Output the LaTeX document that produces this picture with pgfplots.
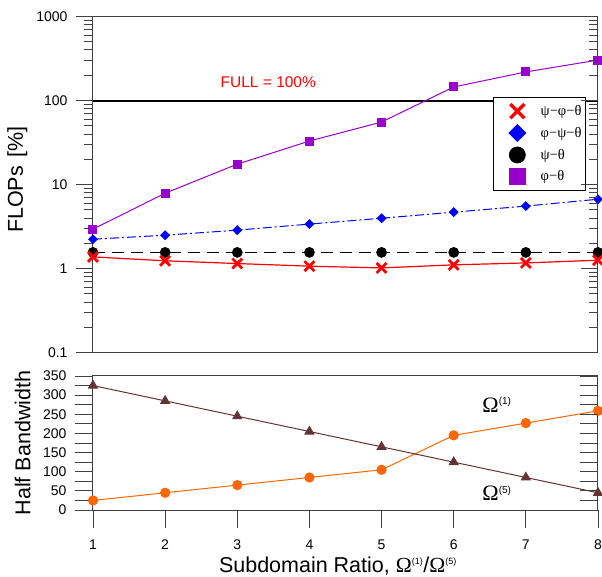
\documentclass[border=0pt]{standalone}
\usepackage{fontspec}
\setmainfont{Liberation Sans}
\newfontfamily\gr{Liberation Serif}
\usepackage{pgfplots}
\pgfplotsset{compat=1.18}

\definecolor{cRed}{HTML}{FF0000}
\definecolor{cBlue}{HTML}{0000FF}
\definecolor{cPurple}{HTML}{9900CC}
\definecolor{cOrange}{HTML}{FF6600}
\definecolor{cBrown}{HTML}{663333}
\definecolor{cAxis}{HTML}{404040}

\pgfplotsset{
  frame/.style={
    scale only axis, width=505bp, xmin=1, xmax=8,
    axis line style={cAxis, line width=1bp},
    every tick/.style={cAxis, line width=0.9bp},
    /pgf/number format/assume math mode=true,
    tick label style={font=\fontsize{14bp}{16bp}\selectfont},
    yticklabel style={xshift=-5bp},
    xticklabel style={yshift=-8bp},
    label style={font=\fontsize{21.5bp}{25bp}\selectfont},
  },
  % companion frame carrying only the inward ticks on the right edge
  rightticks/.style={
    frame, axis line style={draw=none}, xtick=\empty,
    ytick pos=right, tick align=inside, yticklabels={},
  },
}

\begin{document}
\begin{tikzpicture}
\useasboundingbox (-93bp,-67bp) rectangle (509bp,510bp);

% ---------------- lower panel: half bandwidth ----------------
\begin{axis}[frame, at={(0,0)}, anchor=south west, height=134bp,
  ymin=0, ymax=350,
  ytick={0,50,...,350}, minor ytick={25,75,...,325},
  ytick pos=left, xtick pos=bottom, tick align=outside,
  xtick={1,...,8},
  major tick length=18bp, minor tick length=18bp,
  xlabel={Subdomain Ratio, {\gr Ω}\textsuperscript{\fontsize{9bp}{10bp}\selectfont (1)}/{\gr Ω}\textsuperscript{\fontsize{9bp}{10bp}\selectfont (5)}},
  xlabel style={at={(axis description cs:0.485,-0.463)}, anchor=base},
  ylabel={Half Bandwidth},
  ylabel style={at={(axis description cs:-0.139,0.5)}, anchor=center},
  clip=false]
\addplot[cOrange, line width=1bp, mark=*, mark size=4.6bp]
  coordinates {(1,25)(2,45)(3,65)(4,85)(5,105)(6,195)(7,227)(8,259)};
\addplot[cBrown, line width=1bp, mark=triangle*, mark size=5bp]
  coordinates {(1,325)(2,285)(3,245)(4,205)(5,165)(6,125)(7,85)(8,45)};
\node[font=\fontsize{22bp}{25bp}\selectfont] at (axis cs:6.6,274)
  {{\gr Ω}\textsuperscript{\fontsize{10bp}{11bp}\selectfont (1)}};
\node[font=\fontsize{22bp}{25bp}\selectfont] at (axis cs:6.6,44)
  {{\gr Ω}\textsuperscript{\fontsize{10bp}{11bp}\selectfont (5)}};
\end{axis}
\begin{axis}[rightticks, at={(0,0)}, anchor=south west, height=134bp,
  ymin=0, ymax=350, ytick={0,50,...,350}, minor ytick={25,75,...,325},
  major tick length=18bp, minor tick length=18bp]
\end{axis}

% ---------------- upper panel: FLOPs ----------------
\begin{axis}[frame, at={(0,157.3bp)}, anchor=south west, height=336.2bp,
  ymode=log, ymin=0.1, ymax=1000,
  ytick={0.1,1,10,100,1000}, yticklabels={0.1,1,10,100,1000},
  ytick pos=left, tick align=outside, xtick=\empty,
  major tick length=17bp, minor tick length=9bp,
  ylabel={FLOPs\hspace{8bp}[\%]},
  ylabel style={at={(axis description cs:-0.150,0.514)}, anchor=center},
  legend cell align=left,
  legend style={at={(0.976,0.7606)}, anchor=north east,
    draw=black, line width=0.8bp, fill=white,
    font=\fontsize{14.5bp}{17bp}\selectfont\gr,
    row sep=5.5bp, inner xsep=2bp, inner ysep=6bp},
  legend image code/.code={%
    \path (0bp,0bp) coordinate (li-a) (43bp,0bp) coordinate (li-b);
    \draw[#1] plot coordinates {(22bp,0bp)};},
  clip=false]
% full reference level
\addplot[black, line width=2bp, forget plot] coordinates {(1,100)(8,100)};
\node[text=cRed, font=\fontsize{15.5bp}{18bp}\selectfont] at (axis cs:3.43,166) {FULL = 100\%};

\addplot[black, line width=1.5bp, dash pattern=on 12bp off 7bp,
  mark=*, mark size=4.6bp, mark options={solid}, forget plot]
  coordinates {(1,1.56)(2,1.56)(3,1.56)(4,1.56)(5,1.56)(6,1.56)(7,1.56)(8,1.56)};
\addplot[cBlue, line width=1bp, dash pattern=on 9bp off 3bp on 2bp off 3bp,
  mark=square*, mark size=3bp, mark options={solid, rotate=45}, forget plot]
  coordinates {(1,2.24)(2,2.5)(3,2.87)(4,3.39)(5,3.98)(6,4.7)(7,5.55)(8,6.7)};
\addplot[cPurple, line width=1bp, mark=square*, mark size=4bp, forget plot]
  coordinates {(1,2.95)(2,7.9)(3,17.5)(4,33)(5,55.5)(6,145)(7,219)(8,303)};
\addplot[cRed, line width=1.2bp, mark=x, mark size=7bp,
  mark options={line width=2.8bp}, forget plot]
  coordinates {(1,1.38)(2,1.24)(3,1.15)(4,1.07)(5,1.02)(6,1.11)(7,1.17)(8,1.26)};

\addlegendimage{only marks, cRed, mark=x, mark size=10bp, mark options={line width=3.4bp}}
\addlegendentry{ψ−φ−θ\hspace{4bp}}
\addlegendimage{only marks, cBlue, mark=square*, mark size=6bp, mark options={rotate=45}}
\addlegendentry{φ−ψ−θ\hspace{4bp}}
\addlegendimage{only marks, black, mark=*, mark size=8bp}
\addlegendentry{ψ−θ}
\addlegendimage{only marks, cPurple, mark=square*, mark size=8bp}
\addlegendentry{φ−θ}
\end{axis}
\begin{axis}[rightticks, at={(0,157.3bp)}, anchor=south west, height=336.2bp,
  ymode=log, ymin=0.1, ymax=1000, ytick={0.1,1,10,100,1000},
  major tick length=17bp, minor tick length=9bp]
\end{axis}
\end{tikzpicture}
\end{document}
